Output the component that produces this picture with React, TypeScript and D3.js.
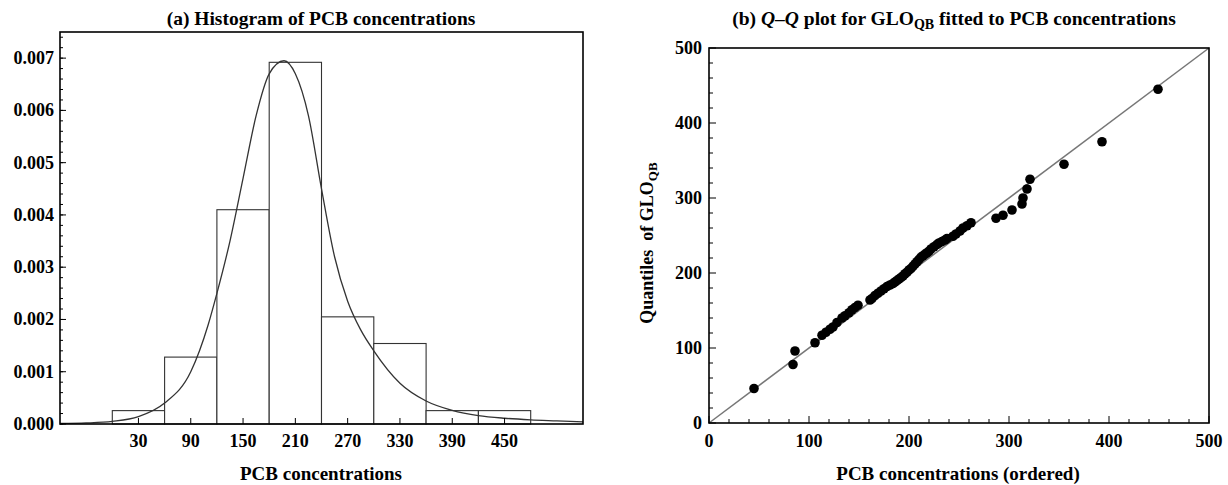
import React from 'react';
import * as d3 from 'd3';

// histogram of PCB concentrations (bins of width 60, density scale)
const binEdges = [0, 60, 120, 180, 240, 300, 360, 420, 480];
const binDensity = [0.000256, 0.00128, 0.0041, 0.00692, 0.00205, 0.00154, 0.000256, 0.000256];
const histTickLabels = [30, 90, 150, 210, 270, 330, 390, 450];

// fitted GLO density
const curveX = [-60, -30, 0, 30, 60, 90, 110, 120, 135, 150, 165, 180, 197, 210, 225, 240, 255, 270, 285, 300, 330, 360, 390, 420, 450, 480, 510, 540];
const curveY = [0.00001, 0.00002, 0.00005, 0.00014, 0.0004, 0.001, 0.0019, 0.0025, 0.0035, 0.0047, 0.0059, 0.0067, 0.00695, 0.0067, 0.0059, 0.0045, 0.0032, 0.00235, 0.0018, 0.0014, 0.00078, 0.00044, 0.00026, 0.00016, 0.00011, 0.00008, 0.00006, 0.00004];

// Q-Q plot: ordered sample vs GLO quantiles
const pcbOrdered = [45, 84, 86, 106, 113, 117, 121, 124, 128, 133, 136, 140, 143, 146, 149, 161, 163, 166, 169, 172, 175, 178,
  181, 184, 186, 188, 190, 192, 194, 196, 198, 200, 202, 204, 206, 208, 210, 212, 214, 216, 218, 220, 222, 225, 228, 230, 233, 236, 238,
  244, 247, 251, 254, 258, 262, 287, 294, 303, 313, 314, 318, 321, 355, 393, 449];
const gloQuantiles = [46, 78, 96, 107, 117, 121, 125, 128, 134, 140, 143, 147, 151, 154, 157, 164, 166, 170, 173, 176, 179, 182,
  184, 186, 188, 190, 192, 194, 196, 199, 201, 204, 206, 209, 212, 215, 218, 221, 223, 225, 227, 229, 232, 235, 238, 240, 242, 244, 246,
  249, 252, 256, 260, 263, 267, 273, 277, 284, 292, 300, 312, 325, 345, 375, 445];
const qqTicks = [0, 100, 200, 300, 400, 500];

const font = '"Liberation Serif", "Times New Roman", serif';

export default function App() {
  // left panel
  const xL = d3.scaleLinear().domain([-60, 540]).range([60, 583]);
  const yL = d3.scaleLinear().domain([0, 0.0075]).range([424, 32]);
  const yMajor = d3.range(0, 0.00701, 0.001);
  const yMinor = d3.range(0, 0.0075, 0.0002);
  const line = d3.line<number>().x((d, i) => xL(curveX[i])).y(d => yL(d)).curve(d3.curveMonotoneX);

  // right panel
  const xR = d3.scaleLinear().domain([0, 500]).range([709, 1209]);
  const yR = d3.scaleLinear().domain([0, 500]).range([423, 48]);
  const minorR = d3.range(0, 501, 20);

  const tickStyle = { fontFamily: font, fontWeight: 700, fontSize: 18, fill: '#000' } as const;

  return (
    <svg width={1228} height={485} style={{ position: 'absolute', left: 0, top: 0, background: '#fff' }}>
      {/* ---------- (a) histogram ---------- */}
      <text x={321} y={25} textAnchor="middle" style={{ ...tickStyle, fontSize: 19.5 }}>(a) Histogram of PCB concentrations</text>
      {binDensity.map((d, i) => (
        <rect key={i} x={xL(binEdges[i])} y={yL(d)} width={xL(binEdges[i + 1]) - xL(binEdges[i])} height={yL(0) - yL(d)}
          fill="#fff" stroke="#333" strokeWidth={1.1} />
      ))}
      <path d={line(curveY) || ''} fill="none" stroke="#333" strokeWidth={1.3} />
      <rect x={60} y={32} width={523} height={392} fill="none" stroke="#000" strokeWidth={1.6} />
      {yMinor.map((v, i) => (
        <line key={'lm' + i} x1={60} x2={63} y1={yL(v)} y2={yL(v)} stroke="#000" strokeWidth={1} />
      ))}
      {yMajor.map((v, i) => (
        <g key={'ly' + i}>
          <line x1={60} x2={66} y1={yL(v)} y2={yL(v)} stroke="#000" strokeWidth={1} />
          <text x={54} y={yL(v) + 6} textAnchor="end" style={tickStyle}>{d3.format('.3f')(v)}</text>
        </g>
      ))}
      {histTickLabels.map(v => (
        <g key={'lx' + v}>
          <line x1={xL(v)} x2={xL(v)} y1={424} y2={418} stroke="#000" strokeWidth={1} />
          <text x={xL(v)} y={447} textAnchor="middle" style={tickStyle}>{v}</text>
        </g>
      ))}
      <text x={321} y={480} textAnchor="middle" style={{ ...tickStyle, fontSize: 19 }}>PCB concentrations</text>

      {/* ---------- (b) Q-Q plot ---------- */}
      <text x={954} y={25} textAnchor="middle" style={{ ...tickStyle, fontSize: 19.5 }}>
        (b) <tspan fontStyle="italic">Q</tspan>–<tspan fontStyle="italic">Q</tspan> plot for GLO
        <tspan fontSize={14} dy={4}>QB</tspan><tspan dy={-4}> fitted to PCB concentrations</tspan>
      </text>
      <line x1={xR(0)} y1={yR(0)} x2={xR(500)} y2={yR(500)} stroke="#777" strokeWidth={1.5} />
      {pcbOrdered.map((v, i) => (
        <circle key={'p' + i} cx={xR(v)} cy={yR(gloQuantiles[i])} r={4.8} fill="#000" />
      ))}
      <rect x={709} y={48} width={500} height={375} fill="none" stroke="#000" strokeWidth={1.6} />
      {minorR.map(v => (
        <g key={'rm' + v}>
          <line x1={xR(v)} x2={xR(v)} y1={423} y2={v % 100 === 0 ? 416 : 419} stroke="#000" strokeWidth={1} />
          <line x1={709} x2={v % 100 === 0 ? 716 : 713} y1={yR(v)} y2={yR(v)} stroke="#000" strokeWidth={1} />
        </g>
      ))}
      {qqTicks.map(v => (
        <g key={'rt' + v}>
          <text x={xR(v)} y={447} textAnchor="middle" style={tickStyle}>{v}</text>
          <text x={702} y={yR(v) + 6} textAnchor="end" style={tickStyle}>{v}</text>
        </g>
      ))}
      <text x={958} y={480} textAnchor="middle" style={{ ...tickStyle, fontSize: 19 }}>PCB concentrations (ordered)</text>
      <text transform="translate(653,243) rotate(-90)" textAnchor="middle" style={{ ...tickStyle, fontSize: 18 }}>
        {'Quantiles\u00a0\u00a0of GLO'}<tspan fontSize={13} dy={4}>QB</tspan>
      </text>
    </svg>
  );
}
